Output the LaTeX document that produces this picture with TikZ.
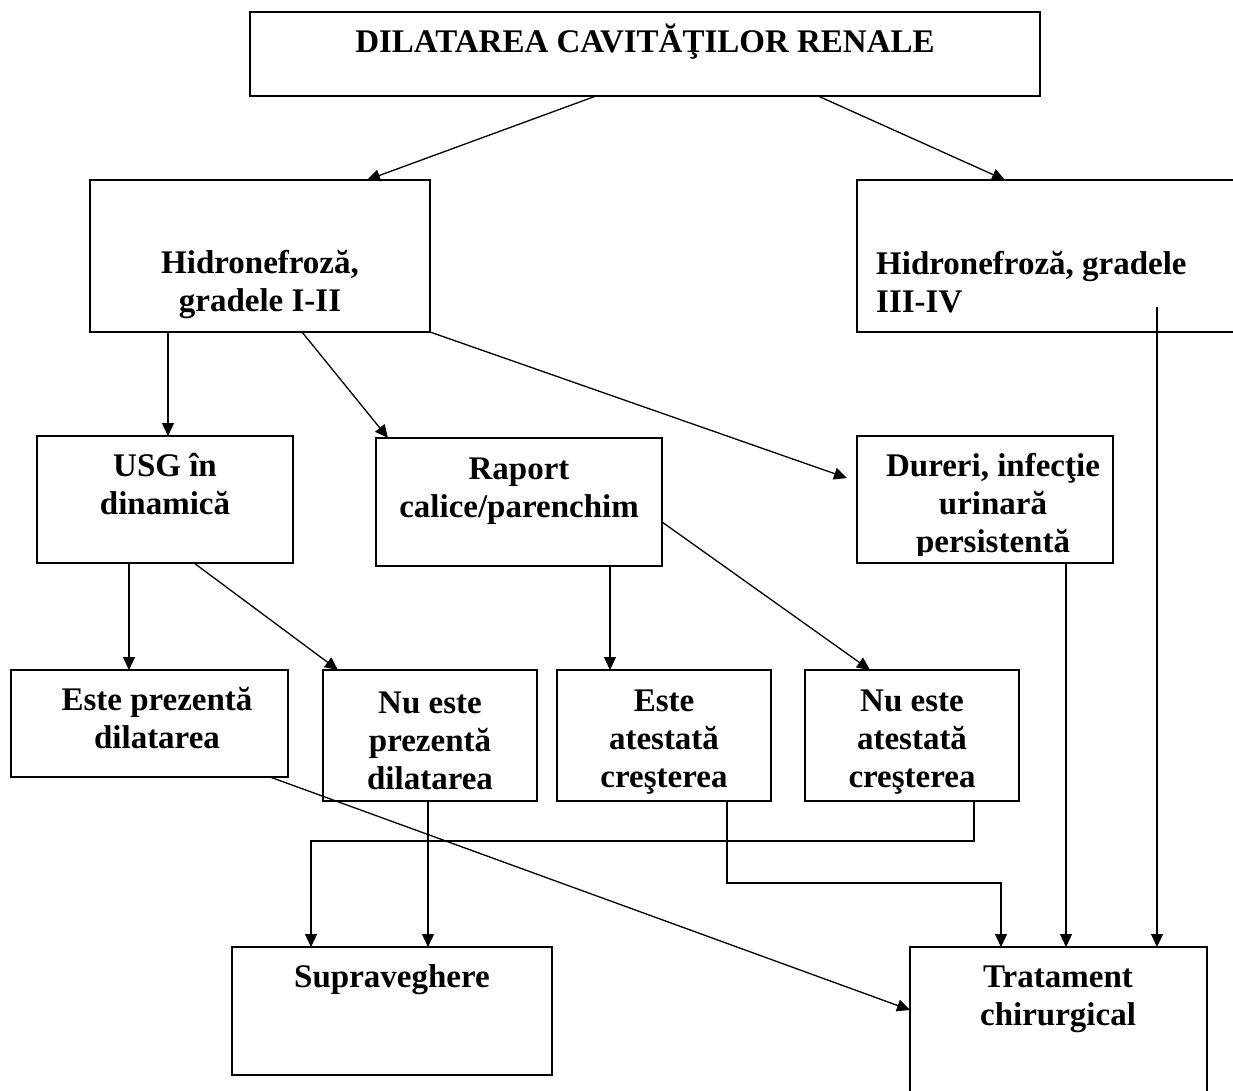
\documentclass[tikz,border=0pt]{standalone}
\usepackage{fontspec}
\setmainfont{Liberation Serif}
\usetikzlibrary{arrows.meta,calc}
\begin{document}
\begin{tikzpicture}[x=1pt,y=-1pt,
  box/.style={draw, line width=1.4pt, rectangle, anchor=north west, inner sep=0pt, outer sep=0pt},
  lbl/.style={font=\bfseries\fontsize{33}{38}\selectfont, align=center, inner sep=0pt, anchor=base},
  arr/.style={line width=1.3pt, -{Triangle[length=13pt,width=12pt]}},
  ln/.style={line width=1.3pt}]
\useasboundingbox (0,0) rectangle (1233,1091);
\clip (0,0) rectangle (1233,1091);
\fill[white] (0,0) rectangle (1233,1091);

% boxes
\node[box, minimum width=790pt, minimum height=84pt] (top) at (250,12) {};
\node[box, minimum width=340pt, minimum height=152pt] (h12) at (90,180) {};
\node[box, minimum width=420pt, minimum height=152pt] (h34) at (857,180) {};
\node[box, minimum width=256pt, minimum height=127pt] (usg) at (37,436) {};
\node[box, minimum width=286pt, minimum height=128pt] (rap) at (376,438) {};
\node[box, minimum width=256pt, minimum height=127pt] (dur) at (857,436) {};
\node[box, minimum width=277pt, minimum height=107pt] (ep) at (11,670) {};
\node[box, minimum width=214pt, minimum height=131pt] (np) at (323,670) {};
\node[box, minimum width=214pt, minimum height=131pt] (ea) at (557,670) {};
\node[box, minimum width=214pt, minimum height=131pt] (na) at (805,670) {};
\node[box, minimum width=320pt, minimum height=128pt] (sup) at (232,947) {};
\node[box, minimum width=297pt, minimum height=200pt] (trat) at (910,947) {};

% texts (anchor = baseline of the last line)
\node[lbl] (ttop) at (645,53) {DILATAREA CAVITĂŢILOR RENALE};
\node[lbl] (th12) at (260,311) {Hidronefroză,\\gradele I-II};
\node[lbl, anchor=base west, align=left] (th34) at (876,312) {Hidronefroză, gradele\\III-IV};
\node[lbl] (tusg) at (165,514) {USG în\\dinamică};
\node[lbl] (trap) at (519,517) {Raport\\calice/parenchim};
\begin{scope}
  \clip (857,436) rectangle (1113,555);
  \node[lbl] (tdur) at (993,552) {Dureri, infecţie\\urinară\\persistentă};
\end{scope}
\node[lbl] (tep) at (157,748) {Este prezentă\\dilatarea};
\node[lbl] (tnp) at (430,789) {Nu este\\prezentă\\dilatarea};
\node[lbl] (tea) at (664,787) {Este\\atestată\\creşterea};
\node[lbl] (tna) at (912,787) {Nu este\\atestată\\creşterea};
\node[lbl] (tsup) at (392,987) {Supraveghere};
\node[lbl] (ttrat) at (1058,1025) {Tratament\\chirurgical};

% connectors
\coordinate (h34out) at ([xshift=300pt,yshift=25pt]h34.south west);
\draw[arr] ([xshift=346pt]top.south west) -- ([xshift=277pt]h12.north west);
\draw[arr] ([xshift=568pt]top.south west) -- ([xshift=148pt]h34.north west);
\draw[arr] ([xshift=78pt]h12.south west) -- ([xshift=78pt]h12.south west |- usg.north);
\draw[arr] ([xshift=212pt]h12.south west) -- ([xshift=12pt]rap.north west);
\draw[arr] (h12.south east) -- ([xshift=-10pt,yshift=-42pt]dur.north west);
\draw[arr] ([xshift=92pt]usg.south west) -- ([xshift=92pt]usg.south west |- ep.north);
\draw[arr] ([xshift=157pt]usg.south west) -- ([xshift=15pt]np.north west);
\draw[arr] ([xshift=234pt]rap.south west) -- ([xshift=234pt]rap.south west |- ea.north);
\draw[arr] ([yshift=-84pt]rap.north east) -- ([xshift=65pt]na.north west);
\draw[arr] ([xshift=259pt]ep.south west) -- ([yshift=-63pt]trat.north west);
\draw[arr] ([xshift=105pt]np.south west) -- ([xshift=105pt]np.south west |- sup.north);
\draw[arr] ([xshift=169pt]na.south west) -- ++(0,40) -| ([xshift=79pt]sup.north west);
\draw[arr] ([xshift=170pt]ea.south west) -- ++(0,82) -| ([xshift=91pt]trat.north west);
\draw[arr] ([xshift=209pt]dur.south west) -- ([xshift=209pt]dur.south west |- trat.north);
\draw[arr] (h34out) -- (h34out |- trat.north);
\end{tikzpicture}
\end{document}
